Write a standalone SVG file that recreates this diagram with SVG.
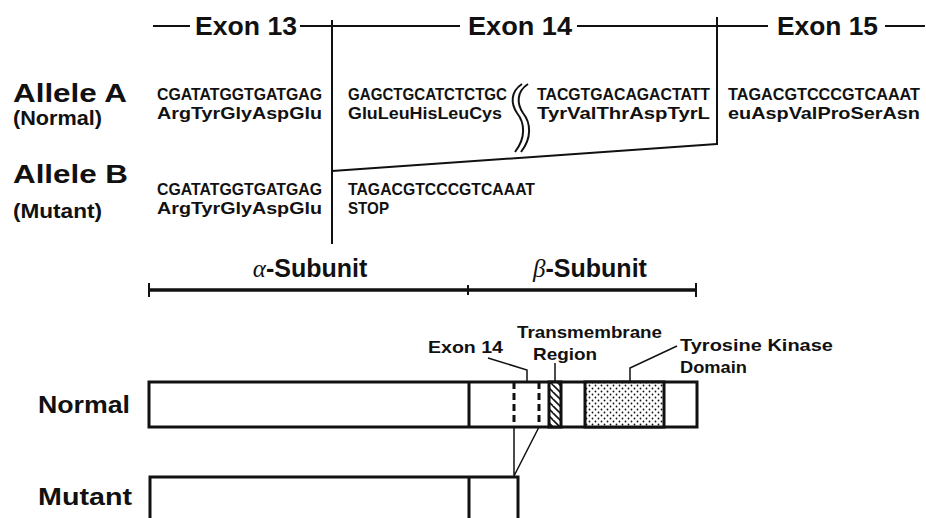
<svg xmlns="http://www.w3.org/2000/svg" width="926" height="518" viewBox="0 0 926 518">
<style>
.h{font-family:"Liberation Sans",Arial,sans-serif;font-weight:bold;fill:#111}
.seq{font-family:"Liberation Sans",Arial,sans-serif;font-weight:bold;font-size:16.5px;fill:#111}
.ln{stroke:#111;fill:none;stroke-width:2}
.thin{stroke:#111;fill:none;stroke-width:1.5}
.box{stroke:#111;stroke-width:3;fill:#fff}
</style>
<defs>
<pattern id="dots" width="6" height="6" patternUnits="userSpaceOnUse">
<rect width="6" height="6" fill="#fff"/>
<circle cx="1.5" cy="1.5" r="0.9" fill="#111"/>
<circle cx="4.5" cy="4.5" r="0.9" fill="#111"/>
</pattern>
<pattern id="hatch" width="7" height="7" patternUnits="userSpaceOnUse">
<rect width="7" height="7" fill="#fff"/>
<path d="M-1,-1 L8,8 M-4,3 L0,7 M3,-4 L11,4" stroke="#111" stroke-width="1.6"/>
</pattern>
</defs>

<g id="exon-headers">
<text class="h" x="195" y="35" font-size="25" textLength="102" lengthAdjust="spacingAndGlyphs">Exon 13</text>
<text class="h" x="468" y="35" font-size="25" textLength="104" lengthAdjust="spacingAndGlyphs">Exon 14</text>
<text class="h" x="777" y="35" font-size="25" textLength="101" lengthAdjust="spacingAndGlyphs">Exon 15</text>
<path class="ln" d="M153,26 H190 M300,26 H460 M577,26 H768 M885,26 H925"/>
</g>

<g id="allele-labels">
<text class="h" x="13" y="102" font-size="26" textLength="114" lengthAdjust="spacingAndGlyphs">Allele A</text>
<text class="h" x="13" y="125" font-size="20" textLength="89" lengthAdjust="spacingAndGlyphs">(Normal)</text>
<text class="h" x="13" y="183" font-size="26" textLength="115" lengthAdjust="spacingAndGlyphs">Allele B</text>
<text class="h" x="13" y="218" font-size="20" textLength="89" lengthAdjust="spacingAndGlyphs">(Mutant)</text>
</g>

<g id="allele-a-seq">
<text class="seq" x="157" y="100" textLength="165" lengthAdjust="spacingAndGlyphs">CGATATGGTGATGAG</text>
<text class="seq" x="348" y="100" textLength="159" lengthAdjust="spacingAndGlyphs">GAGCTGCATCTCTGC</text>
<text class="seq" x="537" y="100" textLength="173" lengthAdjust="spacingAndGlyphs">TACGTGACAGACTATT</text>
<text class="seq" x="728" y="100" textLength="192" lengthAdjust="spacingAndGlyphs">TAGACGTCCCGTCAAAT</text>
<text class="seq" x="157" y="119" textLength="165" lengthAdjust="spacingAndGlyphs">ArgTyrGlyAspGlu</text>
<text class="seq" x="348" y="119" textLength="154" lengthAdjust="spacingAndGlyphs">GluLeuHisLeuCys</text>
<text class="seq" x="537" y="119" textLength="173" lengthAdjust="spacingAndGlyphs">TyrValThrAspTyrL</text>
<text class="seq" x="728" y="119" textLength="192" lengthAdjust="spacingAndGlyphs">euAspValProSerAsn</text>
</g>

<g id="allele-b-seq">
<text class="seq" x="157" y="195" textLength="165" lengthAdjust="spacingAndGlyphs">CGATATGGTGATGAG</text>
<text class="seq" x="348" y="195" textLength="187" lengthAdjust="spacingAndGlyphs">TAGACGTCCCGTCAAAT</text>
<text class="seq" x="157" y="214" textLength="165" lengthAdjust="spacingAndGlyphs">ArgTyrGlyAspGlu</text>
<text class="seq" x="348" y="214" textLength="41" lengthAdjust="spacingAndGlyphs">STOP</text>
</g>

<g id="break-mark">
<path d="M522,84 C510,92 511,104 517,113 C525,123 526,138 515,152" stroke="#111" fill="none" stroke-width="2"/>
<path d="M528,84 C516,92 517,104 523,113 C531,123 532,138 521,152" stroke="#111" fill="none" stroke-width="2"/>
</g>

<g id="subunit-bar">
<text class="h" x="310" y="277" font-size="25" text-anchor="middle"><tspan font-family="Liberation Serif,serif" font-style="italic" font-weight="normal">α</tspan>-Subunit</text>
<text class="h" x="590" y="277" font-size="25" text-anchor="middle"><tspan font-family="Liberation Serif,serif" font-style="italic" font-weight="normal">β</tspan>-Subunit</text>
<path d="M148,290 H697" stroke="#111" stroke-width="3.5"/>
<path class="ln" d="M149,283 V297 M696,283 V297 M468,285 V295"/>
</g>

<g id="normal-protein">
<text class="h" x="38" y="413" font-size="23" textLength="92" lengthAdjust="spacingAndGlyphs">Normal</text>
<rect class="box" x="149" y="382" width="548" height="45"/>
<path d="M469,382 V427" stroke="#111" stroke-width="3"/>
<path d="M514,382 V427 M539,382 V427" stroke="#111" stroke-width="3" stroke-dasharray="7,4"/>
<rect x="549" y="382" width="12" height="45" fill="url(#hatch)" stroke="#111" stroke-width="3"/>
<rect x="585" y="382" width="79" height="45" fill="url(#dots)" stroke="#111" stroke-width="3"/>
</g>

<g id="mutant-protein">
<text class="h" x="38" y="505" font-size="23" textLength="94" lengthAdjust="spacingAndGlyphs">Mutant</text>
<rect class="box" x="150" y="477" width="368" height="60"/>
<path d="M469,477 V518" stroke="#111" stroke-width="3"/>
</g>

<g id="region-labels">
<text class="h" x="428" y="353" font-size="17" textLength="75" lengthAdjust="spacingAndGlyphs">Exon 14</text>
<text class="h" x="517" y="338" font-size="17" textLength="145" lengthAdjust="spacingAndGlyphs">Transmembrane</text>
<text class="h" x="533" y="360" font-size="17" textLength="64" lengthAdjust="spacingAndGlyphs">Region</text>
<text class="h" x="680" y="351" font-size="17" textLength="153" lengthAdjust="spacingAndGlyphs">Tyrosine Kinase</text>
<text class="h" x="680" y="373" font-size="17" textLength="67" lengthAdjust="spacingAndGlyphs">Domain</text>
</g>

<g id="connectors">
<path class="ln" d="M332,20 V244"/>
<path class="ln" d="M717,17 V145"/>
<path class="ln" d="M332,171 L717,144"/>
<path class="thin" d="M488,358 L527,370 V382"/>
<path class="thin" d="M555,363 V382"/>
<path class="thin" d="M677,346 L630,368 V382"/>
<path class="thin" d="M514,427 V476 M539,427 L514,476"/>
</g>
</svg>
